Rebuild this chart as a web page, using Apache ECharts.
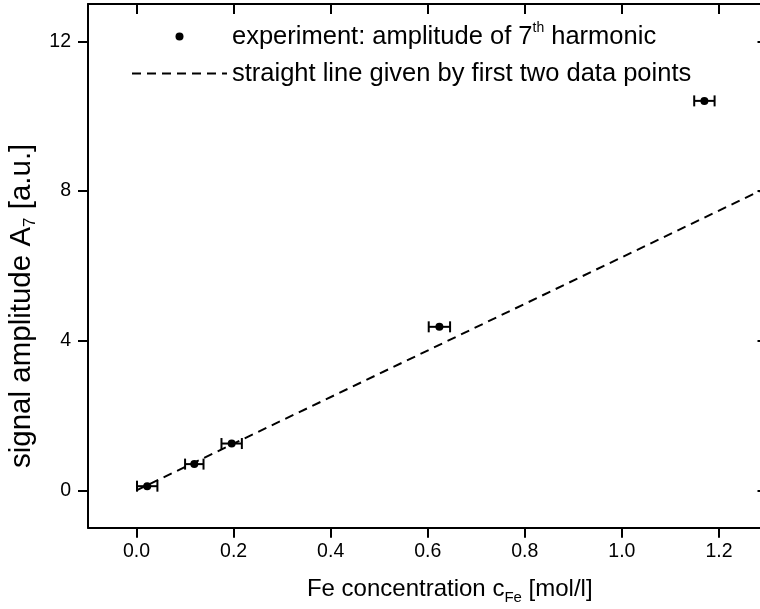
<!DOCTYPE html>
<html><head><meta charset="utf-8">
<script src="https://cdn.jsdelivr.net/npm/echarts@6/dist/echarts.min.js"></script>
<style>html,body{margin:0;padding:0;background:#fff}#c{width:760px;height:609px}</style>
</head><body><div id="c"></div>
<script>
// data
const concentration = [0.022, 0.119, 0.196, 0.624, 1.170];
const amplitude = [0.11, 0.70, 1.25, 4.37, 10.41];
const concentrationError = [0.021, 0.019, 0.021, 0.022, 0.021];
const lineX = [0, 1.3];
const lineY = [0, 8.1];
const xTicks = [0, 0.2, 0.4, 0.6, 0.8, 1.0, 1.2];
const yTicks = [0, 4, 8, 12];
const xTickLabels = ['0.0', '0.2', '0.4', '0.6', '0.8', '1.0', '1.2'];
const yTickLabels = ['0', '4', '8', '12'];

const FONT = "'Liberation Sans', Arial, sans-serif";
const black = '#000';
const axisLine = { show: true, onZero: false, lineStyle: { color: black, width: 2 } };
const tickStyle = { color: black, width: 2 };

const chart = echarts.init(document.getElementById('c'), null, { renderer: 'canvas' });
chart.setOption({
  animation: false,
  backgroundColor: '#fff',
  grid: { left: 88, top: 4, width: 679.5, height: 523.7, outerBoundsMode: 'none', containLabel: false },
  legend: {
    orient: 'vertical', left: 126, top: 16, itemWidth: 95, itemHeight: 8, itemGap: 6,
    data: [{ name: 'exp', itemStyle: { opacity: 1, color: black } }, { name: 'fit', itemStyle: { opacity: 0, color: 'rgba(0,0,0,0)' } }],
    formatter: n => n === 'exp' ? 'experiment: amplitude of 7{sup|th} harmonic' : 'straight line given by first two data points',
    textStyle: {
      fontFamily: FONT, fontSize: 25.5, color: black, lineHeight: 31,
      rich: { sup: { fontFamily: FONT, fontSize: 14, lineHeight: 14, verticalAlign: 'top', color: black } }
    }
  },
  xAxis: [
    {
      type: 'value', min: -0.1, max: 1.3, position: 'bottom', axisLine, splitLine: { show: false },
      axisTick: { show: true, inside: false, length: 10, lineStyle: tickStyle, customValues: xTicks },
      axisLabel: {
        customValues: xTicks, formatter: v => xTickLabels[xTicks.findIndex(t => Math.abs(t - v) < 1e-9)],
        fontFamily: FONT, fontSize: 19.5, color: black, margin: 14
      },
      name: 'Fe concentration c{sub|Fe} [mol/l]', nameLocation: 'middle', nameGap: 46,
      nameTextStyle: {
        fontFamily: FONT, fontSize: 24, color: black, lineHeight: 32, padding: [0, 0, 0, 44],
        rich: { sub: { fontFamily: FONT, fontSize: 15, lineHeight: 15, verticalAlign: 'bottom', color: black } }
      }
    },
    {
      type: 'value', min: -0.1, max: 1.3, position: 'top', axisLine, splitLine: { show: false },
      axisTick: { show: true, inside: true, length: 10, lineStyle: tickStyle, customValues: xTicks },
      axisLabel: { show: false }
    }
  ],
  yAxis: [
    {
      type: 'value', min: -1, max: 13, position: 'left', axisLine, splitLine: { show: false },
      axisTick: { show: true, inside: false, length: 10, lineStyle: tickStyle, customValues: yTicks },
      axisLabel: {
        customValues: yTicks, formatter: v => yTickLabels[yTicks.indexOf(v)],
        fontFamily: FONT, fontSize: 19.5, color: black, margin: 17
      },
      name: 'signal amplitude A{sub|7} [a.u.]', nameLocation: 'middle', nameGap: 48,
      nameTextStyle: {
        fontFamily: FONT, fontSize: 29.5, color: black, lineHeight: 34, padding: [0, 80, 0, 0],
        rich: { sub: { fontFamily: FONT, fontSize: 17, lineHeight: 17, verticalAlign: 'bottom', color: black } }
      }
    },
    {
      type: 'value', min: -1, max: 13, position: 'right', axisLine, splitLine: { show: false },
      axisTick: { show: true, inside: true, length: 10, lineStyle: tickStyle, customValues: yTicks },
      axisLabel: { show: false }
    }
  ],
  series: [
    {
      name: 'fit', type: 'line', xAxisIndex: 0, yAxisIndex: 0, symbol: 'none', showSymbol: false,
      data: lineX.map((x, i) => [x, lineY[i]]),
      lineStyle: { color: black, width: 2, type: [9, 6] }, itemStyle: { color: black }, z: 2, silent: true
    },
    {
      name: 'errors', type: 'custom', xAxisIndex: 0, yAxisIndex: 0, z: 3, silent: true,
      data: concentration.map((x, i) => [x, amplitude[i], concentrationError[i]]),
      renderItem: (params, api) => {
        const x = api.value(0), y = api.value(1), e = api.value(2);
        const l = api.coord([x - e, y]), r = api.coord([x + e, y]);
        const h = 5.5;
        const st = { stroke: black, lineWidth: 2 };
        return {
          type: 'group', children: [
            { type: 'line', shape: { x1: l[0], y1: l[1], x2: r[0], y2: r[1] }, style: st },
            { type: 'line', shape: { x1: l[0], y1: l[1] - h, x2: l[0], y2: l[1] + h }, style: st },
            { type: 'line', shape: { x1: r[0], y1: r[1] - h, x2: r[0], y2: r[1] + h }, style: st }
          ]
        };
      }
    },
    {
      name: 'exp', type: 'scatter', xAxisIndex: 0, yAxisIndex: 0, symbol: 'circle', symbolSize: 8,
      data: concentration.map((x, i) => [x, amplitude[i]]),
      itemStyle: { color: black, opacity: 1 }, z: 4, silent: true
    }
  ]
});
</script></body></html>
